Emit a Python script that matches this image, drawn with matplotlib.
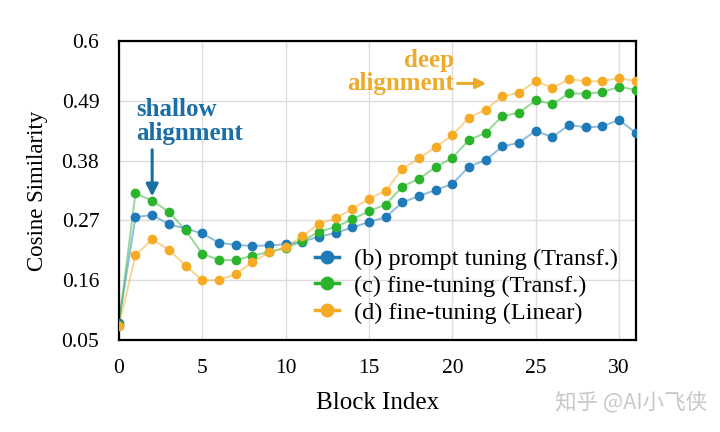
import matplotlib
matplotlib.use("Agg")
import matplotlib.pyplot as plt

# values
blocks = list(range(32))
prompt_transf = [0.082, 0.276, 0.280, 0.263, 0.255, 0.246, 0.229, 0.225, 0.223, 0.224,
                 0.226, 0.231, 0.240, 0.247, 0.257, 0.267, 0.276, 0.303, 0.315, 0.326,
                 0.337, 0.369, 0.381, 0.406, 0.413, 0.435, 0.423, 0.446, 0.441, 0.443,
                 0.455, 0.431]
ft_transf = [0.078, 0.320, 0.306, 0.286, 0.252, 0.209, 0.197, 0.197, 0.205, 0.212,
             0.219, 0.232, 0.249, 0.258, 0.272, 0.287, 0.299, 0.332, 0.347, 0.368,
             0.385, 0.418, 0.431, 0.462, 0.468, 0.491, 0.484, 0.504, 0.503, 0.506,
             0.516, 0.510]
ft_linear = [0.075, 0.206, 0.235, 0.216, 0.187, 0.160, 0.160, 0.171, 0.193, 0.211,
             0.221, 0.241, 0.263, 0.274, 0.291, 0.310, 0.324, 0.365, 0.384, 0.405,
             0.427, 0.459, 0.474, 0.498, 0.505, 0.526, 0.514, 0.530, 0.526, 0.526,
             0.532, 0.526]
labels = ["(b) prompt tuning (Transf.)", "(c) fine-tuning (Transf.)", "(d) fine-tuning (Linear)"]
colors = ["#1f7ab8", "#2cb32c", "#f5ab25"]
yticks = [0.05, 0.16, 0.27, 0.38, 0.49, 0.6]
xticks = [0, 5, 10, 15, 20, 25, 30]

plt.rcParams['font.family'] = ['Liberation Serif', 'DejaVu Serif']

fig = plt.figure(figsize=(7.2, 4.32), dpi=100)
ax = fig.add_axes([0.165, 0.213, 0.718, 0.692])

handles = []
for vals, col, lab in zip([prompt_transf, ft_transf, ft_linear], colors, labels):
    ax.plot(blocks, vals, color=col, lw=1.4, alpha=0.5, zorder=2)
    ax.plot(blocks, vals, 'o', color=col, ms=6, zorder=3)
    h, = ax.plot([], [], '-o', color=col, lw=2.5, ms=9, label=lab)
    handles.append(h)

ax.set_xlim(0, 31)
ax.set_ylim(0.05, 0.6)
ax.set_xticks(xticks)
ax.set_yticks(yticks)
ax.set_yticklabels(["0.05", "0.16", "0.27", "0.38", "0.49", "0.6"])
ax.tick_params(labelsize=15.5, length=0)
ax.tick_params(axis='y', pad=14)
ax.tick_params(axis='x', pad=14)
ax.grid(True, color="#dddddd", lw=1)
ax.set_axisbelow(True)
for s in ax.spines.values():
    s.set_linewidth(1.6)
    s.set_color("black")

ax.set_xlabel("Block Index", fontsize=18, labelpad=10)
ax.set_ylabel("Cosine Similarity", fontsize=16.5, labelpad=10)

ax.legend(handles=handles, loc='upper left', bbox_to_anchor=(0.36, 0.34),
          frameon=False, fontsize=17.5, handlelength=1.0, handletextpad=0.6,
          labelspacing=0.2, borderaxespad=0)

ax.text(1.05, 0.452, "shallow\nalignment", color="#1a6ea6", fontsize=18,
        fontweight='bold', ha='left', va='center', linespacing=1.05)
ax.annotate("", xy=(2, 0.309), xytext=(2, 0.405),
            arrowprops=dict(arrowstyle='-|>', color="#1a6ea6", lw=2.2,
                            mutation_scale=18))

ax.text(20.1, 0.543, "deep\nalignment", color="#edab2c", fontsize=18,
        fontweight='bold', ha='right', va='center', multialignment='right',
        linespacing=1.05)
ax.annotate("", xy=(22.2, 0.522), xytext=(20.15, 0.522),
            arrowprops=dict(arrowstyle='-|>', color="#edab2c", lw=2.2,
                            mutation_scale=15))

fig.text(0.771, 0.068, "知乎 @AI小飞侠", color="#c8c8c8", fontsize=15.5,
         family=['Noto Sans CJK SC', 'DejaVu Sans'], va='center')

fig.savefig("out.png", dpi=100)
